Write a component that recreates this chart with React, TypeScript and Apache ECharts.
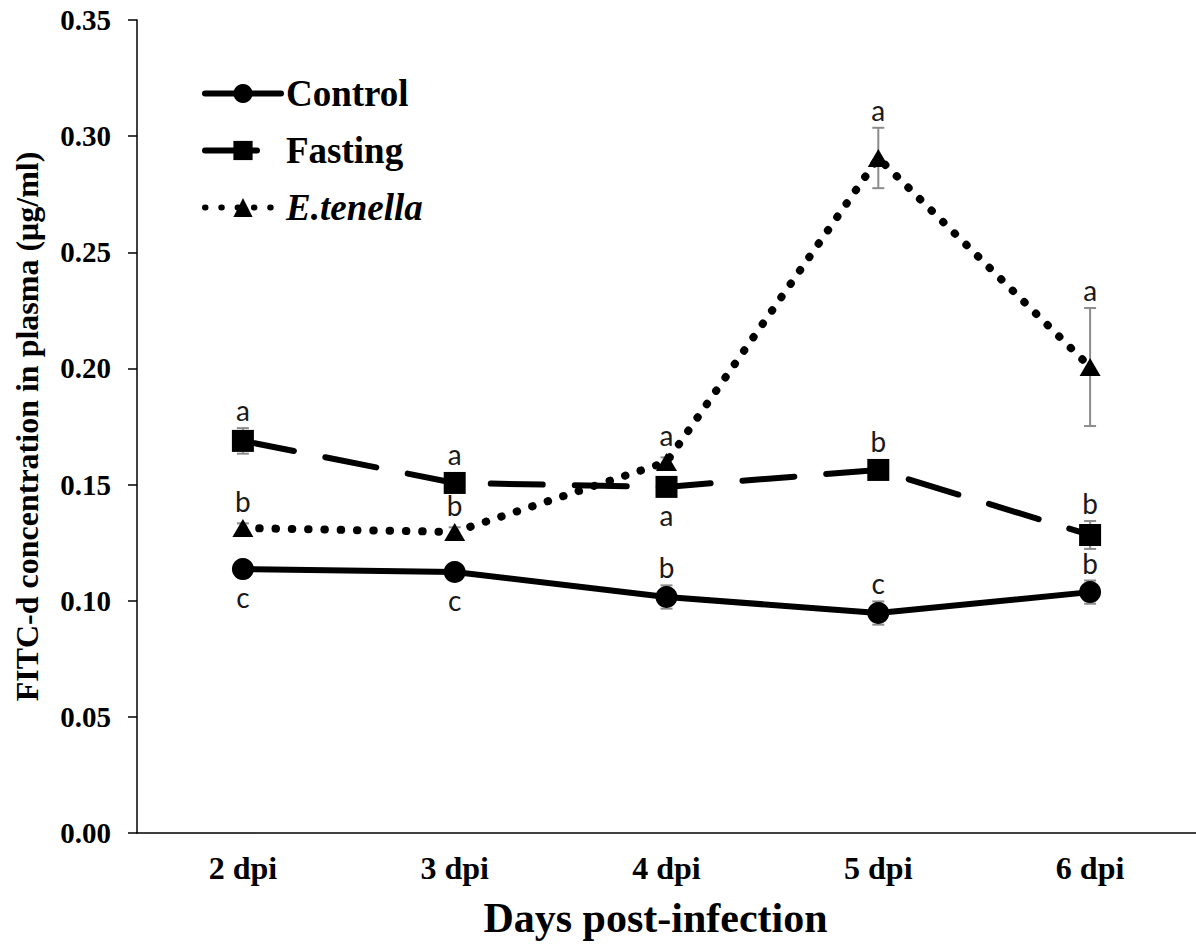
import React, { useEffect, useRef } from "react";
import * as echarts from "echarts";

const categories = ["2 dpi", "3 dpi", "4 dpi", "5 dpi", "6 dpi"];
const yTicks = [0, 0.05, 0.1, 0.15, 0.2, 0.25, 0.3, 0.35];

const control = [0.1136, 0.1124, 0.1016, 0.0947, 0.1037];
const controlErr = [0.002, 0.002, 0.005, 0.005, 0.005];
const controlLetters = ["c", "c", "b", "c", "b"];
const controlLetterPos = ["below", "below", "above", "above", "above"];

const fasting = [0.1688, 0.1507, 0.149, 0.1563, 0.1283];
const fastingErr = [0.0055, 0.003, 0.003, 0.003, 0.006];
const fastingLetters = ["a", "a", "a", "b", "b"];
const fastingLetterPos = ["above", "above", "below", "above", "above"];

const tenella = [0.1313, 0.1296, 0.1597, 0.2906, 0.2006];
const tenellaErr = [0.002, 0.002, 0.002, 0.013, 0.0254];
const tenellaLetters = ["b", "b", "a", "a", "a"];
const tenellaLetterPos = ["above", "above", "above", "above", "above"];

const SERIF = "'Liberation Serif', 'Times New Roman', serif";
const SANS = "Lato, 'Open Sans', sans-serif";

function errSeries(name: string, values: number[], errs: number[], letters: string[], pos: string[], half: number) {
  return {
    type: "custom",
    name: name + "-err",
    z: 1,
    silent: true,
    data: values.map((v, i) => [i, v, errs[i]]),
    encode: { x: 0, y: 1 },
    renderItem: (params: any, api: any) => {
      const i = api.value(0);
      const v = api.value(1);
      const e = api.value(2);
      const c = api.coord([i, v]);
      const hi = api.coord([i, v + e]);
      const lo = api.coord([i, v - e]);
      const cap = 6;
      const stroke = { stroke: "#8c8c8c", lineWidth: 2 };
      const idx = params.dataIndex;
      const above = pos[idx] === "above";
      const topEdge = Math.min(hi[1], c[1] - half);
      const botEdge = Math.max(lo[1], c[1] + half);
      return {
        type: "group",
        children: [
          { type: "line", shape: { x1: c[0], y1: hi[1], x2: c[0], y2: lo[1] }, style: stroke },
          { type: "line", shape: { x1: c[0] - cap, y1: hi[1], x2: c[0] + cap, y2: hi[1] }, style: stroke },
          { type: "line", shape: { x1: c[0] - cap, y1: lo[1], x2: c[0] + cap, y2: lo[1] }, style: stroke },
          {
            type: "text",
            style: {
              text: letters[idx],
              x: c[0],
              y: above ? topEdge - 4 : botEdge + 3,
              align: "center",
              verticalAlign: above ? "bottom" : "top",
              fontSize: 28,
              fontFamily: SANS,
              fill: "#1a1a1a",
            },
          },
        ],
      };
    },
  };
}

export default function App() {
  const ref = useRef<HTMLDivElement>(null);
  useEffect(() => {
    if (!ref.current) return;
    const chart = echarts.init(ref.current, null, { renderer: "svg" });
    const option: any = {
      animation: false,
      backgroundColor: "#ffffff",
      grid: { left: 137, top: 20, right: -14, bottom: 117 },
      legend: {
        orient: "vertical",
        left: 197,
        top: 70,
        itemWidth: 76,
        itemHeight: 24,
        itemGap: 20,
        lineStyle: { width: 6, cap: "round" },
        textStyle: { fontFamily: SERIF, fontWeight: "bold", fontSize: 37, color: "#000" },
        data: [
          { name: "Control" },
          { name: "Fasting" },
          { name: "E.tenella", textStyle: { fontStyle: "italic" } },
        ],
      },
      xAxis: {
        type: "category",
        data: categories,
        boundaryGap: true,
        axisLine: { lineStyle: { color: "#000", width: 1.5 } },
        axisTick: { show: false },
        axisLabel: { fontFamily: SERIF, fontWeight: "bold", fontSize: 32, color: "#000", margin: 19 },
        name: "Days post-infection",
        nameLocation: "middle",
        nameGap: 64,
        nameTextStyle: {
          fontFamily: SERIF,
          fontWeight: "bold",
          fontSize: 42,
          color: "#000",
          padding: [0, 22, 0, 0],
        },
      },
      yAxis: {
        type: "value",
        min: yTicks[0],
        max: yTicks[yTicks.length - 1],
        interval: 0.05,
        splitLine: { show: false },
        axisLine: { show: true, lineStyle: { color: "#000", width: 1.5 } },
        axisTick: { show: true, length: 9, lineStyle: { color: "#000", width: 1.5 } },
        axisLabel: {
          fontFamily: SERIF,
          fontWeight: "bold",
          fontSize: 29,
          color: "#000",
          margin: 26,
          formatter: (v: number) => v.toFixed(2),
        },
        name: "FITC-d concentration in plasma (μg/ml)",
        nameLocation: "middle",
        nameGap: 94,
        nameTextStyle: { fontFamily: SERIF, fontWeight: "bold", fontSize: 32, color: "#000" },
      },
      series: [
        errSeries("Control", control, controlErr, controlLetters, controlLetterPos, 11),
        errSeries("Fasting", fasting, fastingErr, fastingLetters, fastingLetterPos, 11),
        errSeries("E.tenella", tenella, tenellaErr, tenellaLetters, tenellaLetterPos, 9),
        {
          type: "line",
          name: "Control",
          data: control,
          z: 3,
          symbol: "circle",
          symbolSize: 22,
          itemStyle: { color: "#000" },
          lineStyle: { color: "#000", width: 6, type: "solid", cap: "round" },
        },
        {
          type: "line",
          name: "Fasting",
          data: fasting,
          z: 3,
          symbol: "rect",
          symbolSize: 22,
          itemStyle: { color: "#000" },
          lineStyle: { color: "#000", width: 6, type: [52, 32], cap: "round" },
        },
        {
          type: "line",
          name: "E.tenella",
          data: tenella,
          z: 3,
          symbol: "triangle",
          symbolSize: [21, 18],
          itemStyle: { color: "#000" },
          lineStyle: { color: "#000", width: 8, type: [0.5, 15.8], cap: "round" },
        },
      ],
    };
    chart.setOption(option);
    return () => chart.dispose();
  }, []);
  return <div ref={ref} style={{ position: "absolute", left: 0, top: 0, width: 1196, height: 950 }} />;
}
